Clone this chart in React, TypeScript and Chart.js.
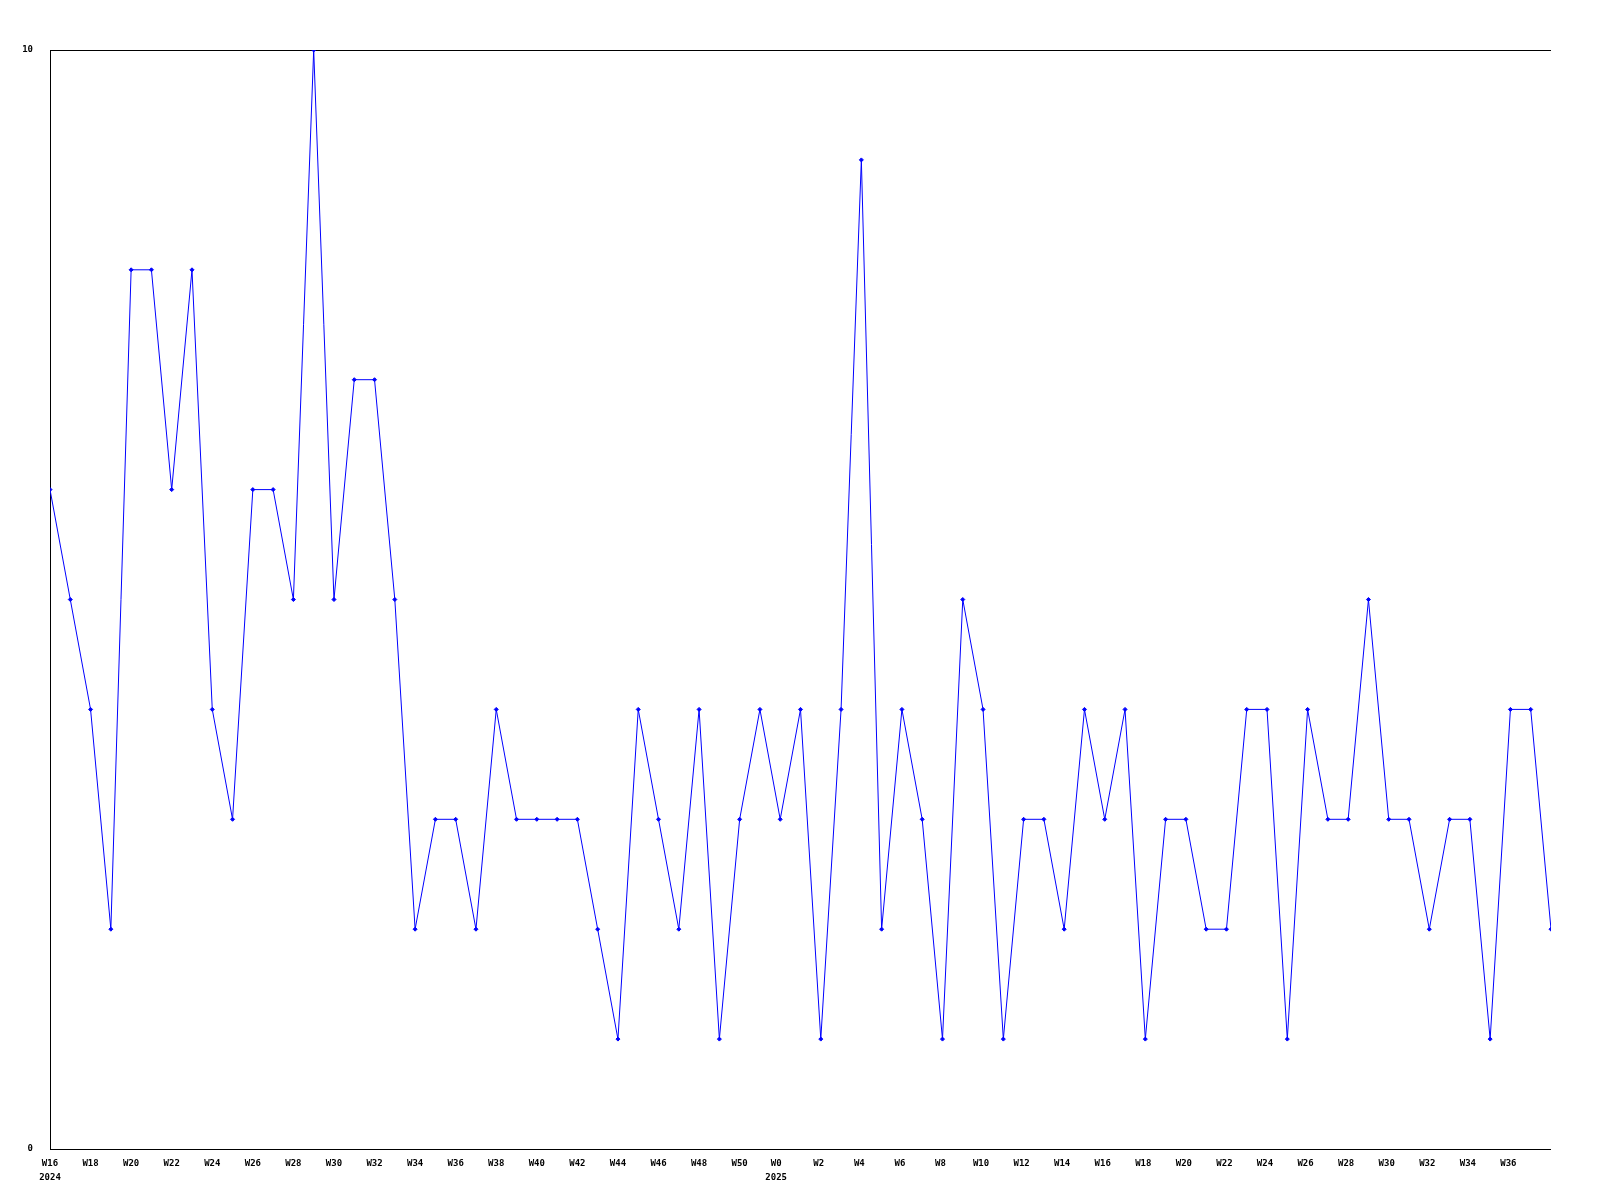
import React, { useEffect, useRef } from "react";
import { Chart, registerables } from "chart.js";

Chart.register(...registerables);

// Weekly values, W16 2024 ... W38 2025
const weekLabels: string[] = [
  "2024-W16","2024-W17","2024-W18","2024-W19","2024-W20","2024-W21","2024-W22","2024-W23","2024-W24","2024-W25",
  "2024-W26","2024-W27","2024-W28","2024-W29","2024-W30","2024-W31","2024-W32","2024-W33","2024-W34","2024-W35",
  "2024-W36","2024-W37","2024-W38","2024-W39","2024-W40","2024-W41","2024-W42","2024-W43","2024-W44","2024-W45",
  "2024-W46","2024-W47","2024-W48","2024-W49","2024-W50","2024-W51","2024-W52","2025-W1","2025-W2","2025-W3",
  "2025-W4","2025-W5","2025-W6","2025-W7","2025-W8","2025-W9","2025-W10","2025-W11","2025-W12","2025-W13",
  "2025-W14","2025-W15","2025-W16","2025-W17","2025-W18","2025-W19","2025-W20","2025-W21","2025-W22","2025-W23",
  "2025-W24","2025-W25","2025-W26","2025-W27","2025-W28","2025-W29","2025-W30","2025-W31","2025-W32","2025-W33",
  "2025-W34","2025-W35","2025-W36","2025-W37","2025-W38",
];

const values: number[] = [
  6, 5, 4, 2, 8, 8, 6, 8, 4, 3,
  6, 6, 5, 10, 5, 7, 7, 5, 2, 3,
  3, 2, 4, 3, 3, 3, 3, 2, 1, 4,
  3, 2, 4, 1, 3, 4, 3, 4, 1, 4,
  9, 2, 4, 3, 1, 5, 4, 1, 3, 3,
  2, 4, 3, 4, 1, 3, 3, 2, 2, 4,
  4, 1, 4, 3, 3, 5, 3, 3, 2, 3,
  3, 1, 4, 4, 2,
];

// x tick positions (in week-index units) and their labels
const xTickPositions: number[] = [
  0, 2, 4, 6, 8, 10, 12, 14, 16, 18, 20, 22, 24, 26, 28, 30, 32, 34,
  35.8, 37.9, 39.9, 41.9, 43.9, 45.9, 47.9, 49.9, 51.9, 53.9, 55.9, 57.9, 59.9, 61.9, 63.9, 65.9, 67.9, 69.9, 71.9,
];
const xTickLabels: (string | string[])[] = [
  ["W16", "2024"], "W18", "W20", "W22", "W24", "W26", "W28", "W30", "W32", "W34",
  "W36", "W38", "W40", "W42", "W44", "W46", "W48", "W50",
  ["W0", "2025"], "W2", "W4", "W6", "W8", "W10", "W12", "W14", "W16", "W18",
  "W20", "W22", "W24", "W26", "W28", "W30", "W32", "W34", "W36",
];

const yTickValues: number[] = [0, 10];

export default function App() {
  const ref = useRef<HTMLCanvasElement | null>(null);

  useEffect(() => {
    if (!ref.current) return;
    const font = { family: "'DejaVu Sans Mono', monospace", size: 9, weight: "bold" as const, lineHeight: 1.5 };
    const chart = new Chart(ref.current, {
      type: "line",
      data: {
        datasets: [
          {
            label: "count",
            data: values.map((v, i) => ({ x: i, y: v })),
            borderColor: "#0000ff",
            backgroundColor: "#0000ff",
            borderWidth: 1,
            pointStyle: "rectRot",
            pointRadius: 2,
            pointBorderWidth: 1,
            pointHoverRadius: 2,
            tension: 0,
          },
        ],
      },
      options: {
        animation: false,
        responsive: false,
        maintainAspectRatio: false,
        events: [],
        layout: { padding: { left: 0, top: 50, right: 49, bottom: 0 } },
        plugins: {
          legend: { display: false },
          tooltip: { enabled: false },
          title: { display: false },
        },
        scales: {
          x: {
            type: "linear",
            min: 0,
            max: values.length - 1,
            afterBuildTicks: (scale: any) => {
              scale.ticks = xTickPositions.map((v) => ({ value: v }));
            },
            afterFit: (scale: any) => {
              scale.height = 51;
            },
            grid: { display: false, drawTicks: false },
            border: { display: false },
            ticks: {
              autoSkip: false,
              maxRotation: 0,
              minRotation: 0,
              padding: 8,
              color: "#000000",
              font,
              callback: (v: any) => {
                const idx = xTickPositions.indexOf(Number(v));
                return idx >= 0 ? xTickLabels[idx] : "";
              },
            },
          },
          y: {
            type: "linear",
            min: 0,
            max: 10,
            afterBuildTicks: (scale: any) => {
              scale.ticks = yTickValues.map((v) => ({ value: v }));
            },
            afterFit: (scale: any) => {
              scale.width = 50;
            },
            grid: { display: true, color: "#000000", lineWidth: 1, drawTicks: false },
            border: { display: true, color: "#000000", width: 1 },
            ticks: {
              padding: 17,
              color: "#000000",
              font: { family: "'DejaVu Sans Mono', monospace", size: 9, weight: "bold" as const },
              callback: (v: any) => String(v),
            },
          },
        },
      },
    });
    return () => chart.destroy();
  }, []);

  return (
    <div style={{ position: "absolute", left: 0, top: 0, width: 1600, height: 1200, background: "#ffffff" }}>
      <canvas ref={ref} width={1600} height={1200} style={{ width: 1600, height: 1200, display: "block" }} />
    </div>
  );
}
